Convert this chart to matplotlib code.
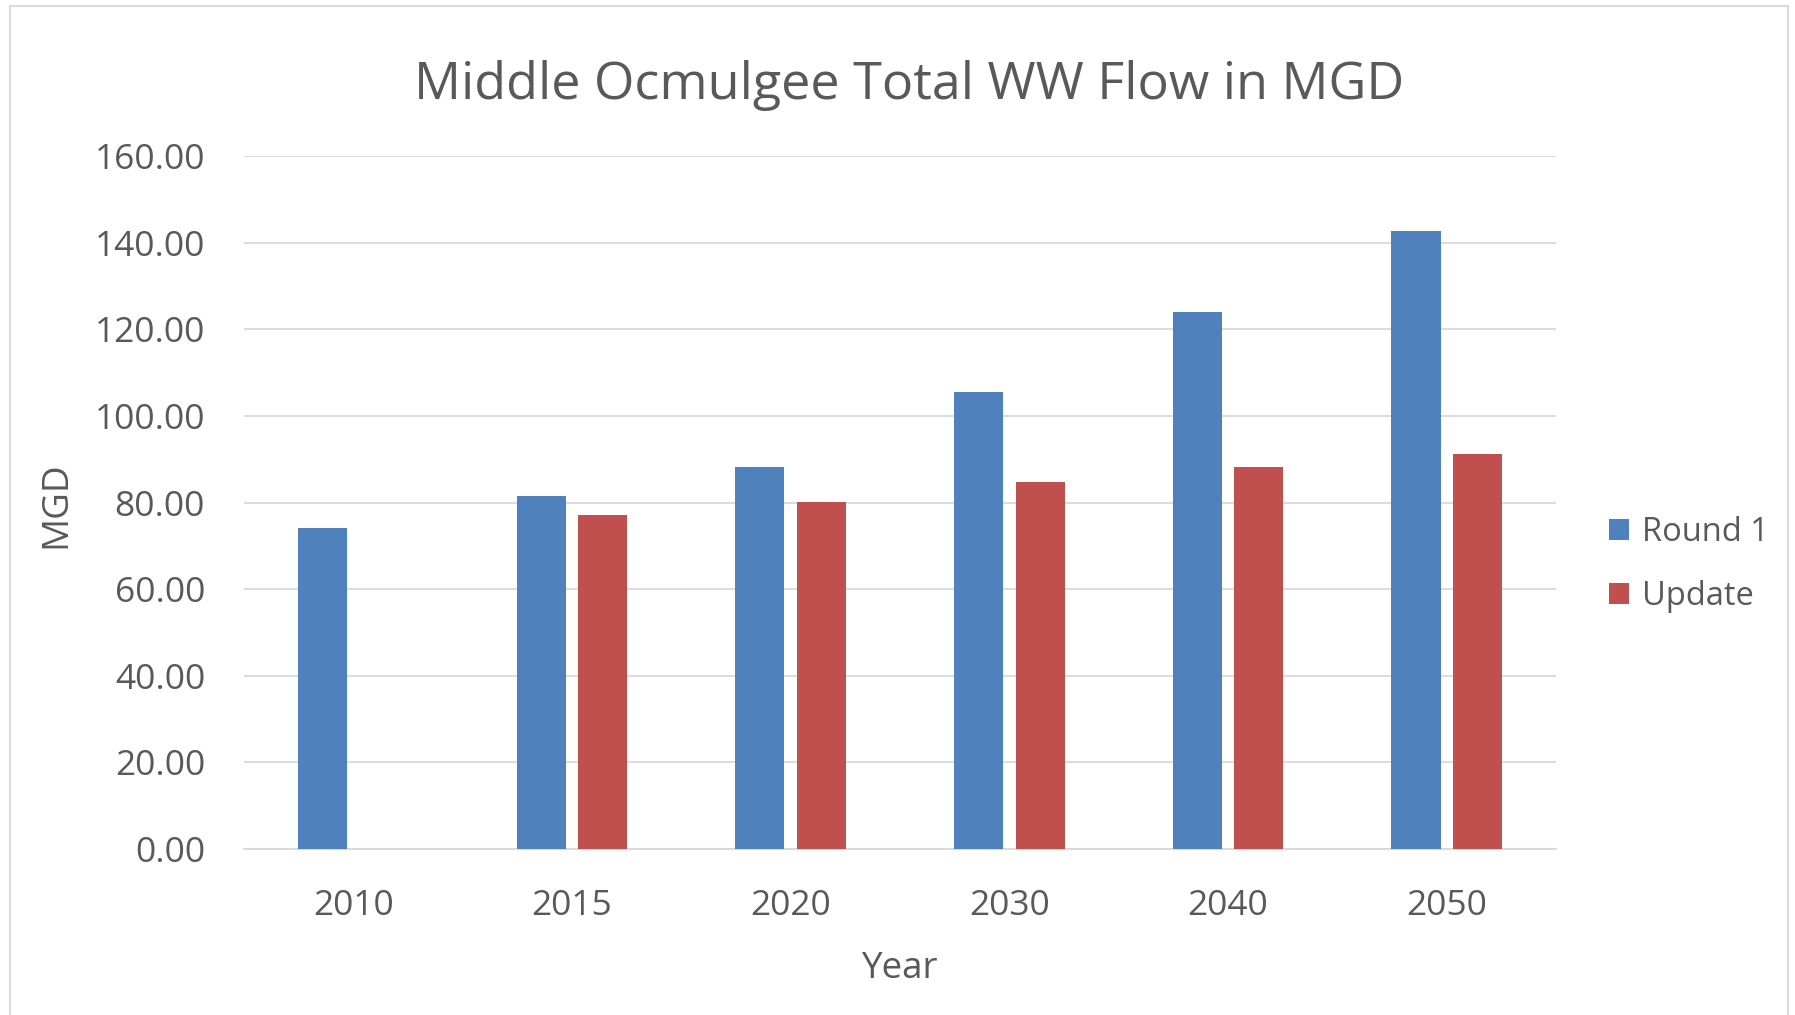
import numpy as np
import matplotlib.pyplot as plt
from matplotlib.patches import Rectangle

plt.rcParams['font.family'] = ['Open Sans', 'DejaVu Sans']

# data
years = ['2010', '2015', '2020', '2030', '2040', '2050']
round_1 = [74.2, 81.4, 88.1, 105.5, 123.9, 142.8]
update = [np.nan, 77.2, 80.2, 84.8, 88.1, 91.1]
series_names = ['Round 1', 'Update']

BLUE = '#4F81BD'
RED = '#C0504D'
TEXT = '#595959'
GRID = '#D9D9D9'

fig = plt.figure(figsize=(17.95, 10.15), dpi=100)
ax = fig.add_axes([0.1359, 0.1635, 0.8669 - 0.1359, 0.8463 - 0.1635])

x = np.arange(len(years))
w = 0.225
off = 0.141
ax.bar(x - off, round_1, width=w, color=BLUE, label=series_names[0], zorder=3)
ax.bar(x + off, update, width=w, color=RED, label=series_names[1], zorder=3)

ax.set_xlim(-0.5, len(years) - 0.5)
ax.set_ylim(0, 160)
ax.set_yticks(np.arange(0, 161, 20))
ax.set_yticklabels(['%.2f' % v for v in np.arange(0, 161, 20)])
ax.set_xticks(x)
ax.set_xticklabels(years)
ax.grid(axis='y', color=GRID, linewidth=1.3, zorder=0)
for s in ['top', 'right', 'left']:
    ax.spines[s].set_visible(False)
ax.spines['bottom'].set_color(GRID)
ax.spines['bottom'].set_linewidth(1.5)
ax.tick_params(length=0, labelsize=25.5, labelcolor=TEXT)
ax.tick_params(axis='y', pad=28)
ax.tick_params(axis='x', pad=29)

fig.text(0.5064, 0.916, 'Middle Ocmulgee Total WW Flow in MGD', ha='center', va='center',
         fontsize=37.5, color=TEXT)
fig.text(0.501, 0.045, 'Year', ha='center', va='center', fontsize=26.5, color=TEXT)
fig.text(0.0315, 0.503, 'MGD', ha='center', va='center', rotation=90, fontsize=26.5, color=TEXT)

leg = fig.legend(loc='center left', bbox_to_anchor=(0.880, 0.444), frameon=False,
                 fontsize=23.5, handlelength=0.6, handleheight=0.6, handletextpad=0.4,
                 labelspacing=0.95, labelcolor=TEXT)

# chart area border
fig.patches.append(Rectangle((10 / 1795, -0.1), (1788 - 10) / 1795, 1.1 - 6 / 1015,
                             transform=fig.transFigure, fill=False, edgecolor=GRID,
                             linewidth=1.5))

fig.savefig('out.png', dpi=100)
